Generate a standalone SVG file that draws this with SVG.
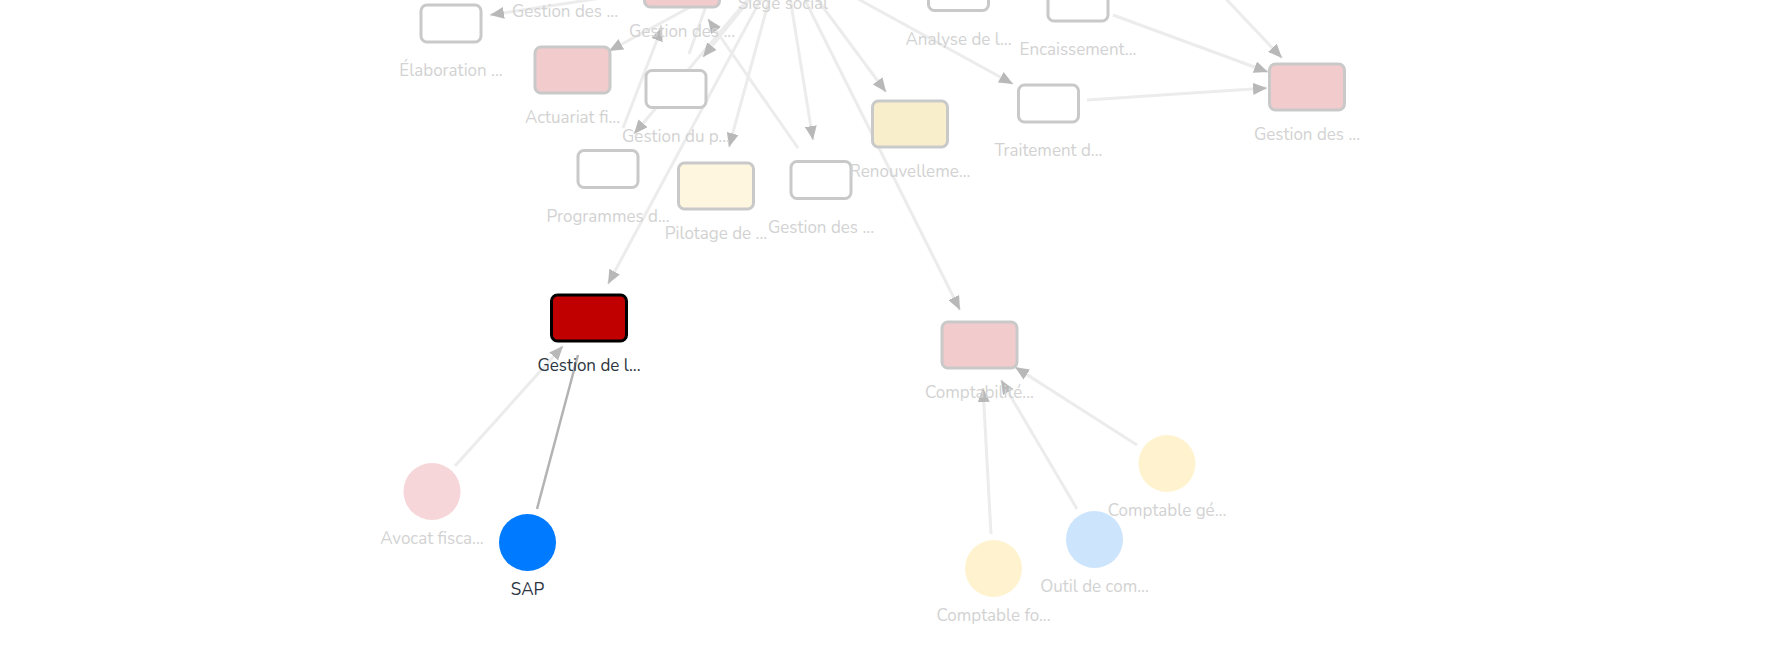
<svg xmlns="http://www.w3.org/2000/svg" width="1792" height="663" viewBox="0 0 1792 663">
<defs>
<style>
.e{fill:none;stroke:#ececec;stroke-width:3}
.e.hl{stroke:#b3b3b3;stroke-width:2.5}
.a{marker-end:url(#arr)}
.r{stroke:#c9c9c9;stroke-width:3}
.w{fill:#ffffff}
.p{fill:#f2cbcc}
.y{fill:#f8eecc}
.ly{fill:#fff6e0}
.dr{fill:#c00000;stroke:#000000;stroke-width:3}
text{font-family:"Nunito","Open Sans","Liberation Sans",sans-serif;font-size:17px;text-anchor:middle;fill:#d2d2d2}
text.d{fill:#2b3440}
</style>
<marker id="arr" viewBox="0 0 14 12" refX="14" refY="6" markerWidth="14" markerHeight="12" markerUnits="userSpaceOnUse" orient="auto">
<path d="M0,0 L14,6 L0,12 Z" fill="#b8b8b8"/>
</marker>
</defs>
<rect width="1792" height="663" fill="#ffffff"/>
<g id="connectors">
<line class="e a" x1="700" y1="-17" x2="490" y2="15"/>
<line class="e a" x1="777" y1="-40" x2="609" y2="51"/>
<line class="e a" x1="623" y1="128" x2="662" y2="27"/>
<line class="e a" x1="781" y1="-40" x2="634" y2="134"/>
<line class="e a" x1="780" y1="-40" x2="729" y2="147"/>
<line class="e a" x1="784" y1="-40" x2="813" y2="140"/>
<line class="e a" x1="788" y1="-40" x2="886" y2="92"/>
<line class="e a" x1="798" y1="148" x2="708" y2="19"/>
<line class="e" x1="689" y1="54" x2="706" y2="6"/>
<line class="e a" x1="782" y1="-40" x2="703" y2="57"/>
<line class="e a" x1="785" y1="-40" x2="960" y2="310"/>
<line class="e a" x1="782" y1="-40" x2="608" y2="284"/>
<line class="e a" x1="787" y1="-40" x2="1013" y2="84"/>
<line class="e a" x1="1113" y1="15" x2="1268" y2="72"/>
<line class="e a" x1="1189" y1="-40" x2="1282" y2="58"/>
<line class="e a" x1="1087" y1="100" x2="1267" y2="88"/>
<line class="e a" x1="455" y1="466" x2="563" y2="346"/>
<line class="e hl" x1="537" y1="509" x2="578" y2="355"/>
<line class="e a" x1="991" y1="534" x2="983" y2="388"/>
<line class="e a" x1="1077" y1="509" x2="1001" y2="380"/>
<line class="e a" x1="1137" y1="445" x2="1015" y2="367"/>
</g>
<g id="n-siege"><rect class="r w" x="753" y="-62" width="60" height="37" rx="6"/><text x="783" y="9">Siège social</text></g>
<g id="n-gestion-top-left"><rect class="r w" x="535" y="-54" width="60" height="37" rx="6"/><text x="565" y="17">Gestion des ...</text></g>
<g id="n-gestion-top"><rect class="r p" x="644.5" y="-39" width="75" height="46" rx="6"/><text x="682" y="37">Gestion des ...</text></g>
<g id="n-elaboration"><rect class="r w" x="421" y="5" width="60" height="37" rx="6"/><text x="451" y="76">Élaboration ...</text></g>
<g id="n-actuariat"><rect class="r p" x="535" y="47" width="75" height="46" rx="6"/><text x="572.5" y="123">Actuariat fi...</text></g>
<g id="n-gestion-du-p"><rect class="r w" x="646" y="70.5" width="60" height="37" rx="6"/><text x="676" y="142">Gestion du p...</text></g>
<g id="n-programmes"><rect class="r w" x="578" y="150.5" width="60" height="37" rx="6"/><text x="608" y="222">Programmes d...</text></g>
<g id="n-pilotage"><rect class="r ly" x="678.5" y="163" width="75" height="46" rx="6"/><text x="716" y="239">Pilotage de ...</text></g>
<g id="n-gestion-mid"><rect class="r w" x="791" y="161.5" width="60" height="37" rx="6"/><text x="821" y="233">Gestion des ...</text></g>
<g id="n-renouvellement"><rect class="r y" x="872.5" y="101" width="75" height="46" rx="6"/><text x="910" y="177">Renouvelleme...</text></g>
<g id="n-analyse"><rect class="r w" x="928.5" y="-26.5" width="60" height="37" rx="6"/><text x="958.5" y="45">Analyse de l...</text></g>
<g id="n-encaissement"><rect class="r w" x="1048" y="-16" width="60" height="37" rx="6"/><text x="1078" y="55">Encaissement...</text></g>
<g id="n-traitement"><rect class="r w" x="1018.5" y="85" width="60" height="37" rx="6"/><text x="1048.5" y="156">Traitement d...</text></g>
<g id="n-gestion-right"><rect class="r p" x="1269.5" y="64" width="75" height="46" rx="6"/><text x="1307" y="140">Gestion des ...</text></g>
<g id="n-gestion-de-l"><rect class="dr" x="551.5" y="295" width="75" height="46" rx="6"/><text class="d" x="589" y="371">Gestion de l...</text></g>
<g id="n-comptabilite"><rect class="r p" x="942" y="322" width="75" height="46" rx="6"/><text x="979.5" y="398">Comptabilité...</text></g>
<g id="n-avocat"><circle cx="432" cy="491.5" r="28.5" fill="#f7d6d9"/><text x="432" y="544">Avocat fisca...</text></g>
<g id="n-sap"><circle cx="527.5" cy="542.5" r="28.5" fill="#007bff"/><text class="d" x="527.5" y="595">SAP</text></g>
<g id="n-comptable-ge"><circle cx="1167" cy="463.5" r="28.5" fill="#fff3cf"/><text x="1167" y="516">Comptable gé...</text></g>
<g id="n-outil"><circle cx="1094.5" cy="539.5" r="28.5" fill="#cce4fc"/><text x="1094.5" y="592">Outil de com...</text></g>
<g id="n-comptable-fo"><circle cx="993.5" cy="568.5" r="28.5" fill="#fff3cf"/><text x="993.5" y="621">Comptable fo...</text></g>
</svg>
